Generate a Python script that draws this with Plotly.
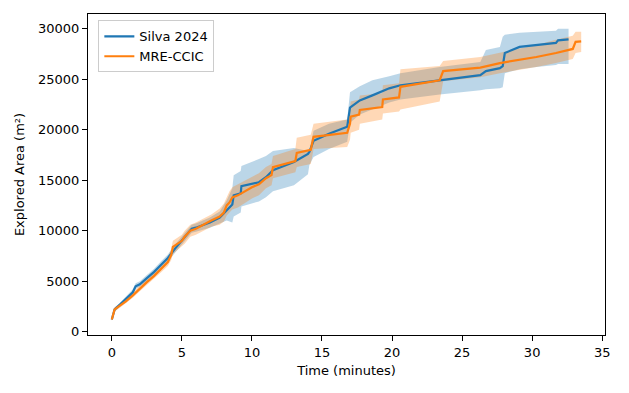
import plotly.graph_objects as go

# Silva 2024 (mean and spread)
silva_t = [0.0, 0.2, 0.6, 1.0, 1.5, 1.7, 2.0, 2.5, 3.0, 3.5, 4.0, 4.5, 5.0, 5.5, 5.7, 6.0,
           7.0, 7.7, 8.2, 8.6, 8.7, 9.2, 9.25, 10.5, 11.0, 11.5, 13.0, 14.0, 14.1, 14.4,
           15.5, 16.8, 17.0, 17.7, 18.6, 19.8, 20.6, 23.4, 26.3, 26.7, 27.7, 27.9, 28.05,
           29.1, 30.3, 31.7, 31.85, 32.6]
silva_mean = [1200, 2200, 2700, 3200, 3900, 4500, 4700, 5300, 5900, 6600, 7300, 8200, 9000,
              9800, 10200, 10300, 10800, 11300, 12000, 12600, 13500, 13700, 14400, 14800,
              15300, 16000, 16800, 17600, 17800, 18900, 19600, 20300, 22200, 22900, 23400,
              24100, 24400, 24900, 25400, 25800, 26100, 26300, 27600, 28200, 28400, 28600,
              28850, 28950]
silva_lo = [1100, 2000, 2500, 3000, 3650, 4250, 4450, 5000, 5600, 6250, 6950, 7800, 8600,
            9400, 9800, 9900, 10300, 10700, 11000, 10800, 11400, 11800, 12400, 12900,
            13300, 13900, 14500, 15600, 16500, 17300, 18100, 18800, 20700, 21500, 22000,
            22700, 23000, 23500, 23900, 24000, 24100, 24200, 25600, 26000, 26200, 26400,
            26500, 26500]
silva_hi = [1300, 2400, 2900, 3450, 4200, 4800, 5000, 5600, 6200, 6950, 7650, 8600, 9400,
            10200, 10600, 10700, 11300, 11900, 13000, 14200, 15500, 15900, 16400, 17100,
            17400, 17900, 18200, 17900, 18000, 19900, 20600, 21000, 23700, 24300, 24900,
            25300, 25600, 26200, 26700, 27900, 28200, 29200, 29400, 29600, 29700, 29800,
            30000, 30000]

# MRE-CCIC
mre_t = [0.0, 0.2, 0.6, 1.0, 1.5, 2.0, 2.5, 3.0, 3.5, 4.0, 4.24, 4.36, 5.0, 5.2, 5.6, 6.0,
         7.1, 7.7, 8.0, 8.2, 8.4, 8.6, 9.0, 10.0, 10.5, 11.0, 11.4, 11.5, 13.1, 13.2, 14.2,
         14.4, 16.8, 17.0, 17.05, 17.65, 17.7, 19.3, 19.35, 20.5, 20.6, 23.4, 23.65, 26.3,
         27.7, 30.3, 31.7, 32.9, 33.1, 33.5]
mre_mean = [1200, 2200, 2600, 3000, 3600, 4300, 4900, 5500, 6200, 6900, 7600, 8400, 9000,
            9400, 10000, 10200, 11000, 11400, 11800, 12500, 12800, 13300, 13500, 14300,
            14600, 15200, 15500, 16300, 16900, 17700, 18000, 19300, 19700, 20600, 21300,
            21500, 21950, 22250, 23000, 23200, 24250, 24900, 25800, 26150, 26600, 27200,
            27600, 28000, 28700, 28750]
mre_lo = [1100, 2000, 2400, 2800, 3350, 4000, 4600, 5200, 5850, 6500, 7100, 7700, 8400,
          8700, 9400, 9600, 10400, 10600, 10900, 11500, 11800, 12100, 12300, 13200, 13500,
          14200, 14500, 15200, 15800, 16300, 16600, 18100, 18300, 19000, 19700, 20000,
          20600, 21000, 21600, 21800, 22000, 22800, 24800, 25200, 25600, 26200, 26600,
          27000, 27600, 27700]
mre_hi = [1300, 2400, 2800, 3250, 3900, 4600, 5200, 5850, 6550, 7350, 8200, 9000, 9600,
          10000, 10600, 10800, 11600, 12200, 12700, 13400, 13900, 14300, 14600, 15400,
          15700, 16300, 16600, 17400, 18100, 19200, 19500, 20600, 21000, 22200, 22800,
          23000, 23400, 23600, 24400, 24600, 26000, 26300, 26800, 27200, 27600, 28400,
          28900, 29300, 29700, 29700]

x_ticks = [0, 5, 10, 15, 20, 25, 30, 35]
y_ticks = [0, 5000, 10000, 15000, 20000, 25000, 30000]

series = [
    ("Silva 2024", silva_t, silva_mean, silva_lo, silva_hi, "#1f77b4", "rgba(31,119,180,0.3)"),
    ("MRE-CCIC", mre_t, mre_mean, mre_lo, mre_hi, "#ff7f0e", "rgba(255,127,14,0.3)"),
]

fig = go.Figure()
# shaded spread first, lines on top
for name, t, mean, lo, hi, color, band in series:
    fig.add_trace(go.Scatter(x=t, y=lo, mode="lines", line=dict(width=0),
                             showlegend=False, hoverinfo="skip"))
    fig.add_trace(go.Scatter(x=t, y=hi, mode="lines", line=dict(width=0),
                             fill="tonexty", fillcolor=band,
                             showlegend=False, hoverinfo="skip"))
for name, t, mean, lo, hi, color, band in series:
    fig.add_trace(go.Scatter(x=t, y=mean, mode="lines", name=name,
                             line=dict(color=color, width=2.2)))

axis_style = dict(showline=True, linecolor="black", linewidth=1, mirror=True,
                  ticks="outside", ticklen=5, tickcolor="black", showgrid=False,
                  zeroline=False, automargin=False, tickfont=dict(size=13, color="black"))

# the page body adds an 8px offset, so the figure is 8px smaller on each side
fig.update_layout(
    width=621, height=385,
    margin=dict(l=80, r=24, t=6, b=58),
    paper_bgcolor="white", plot_bgcolor="white",
    font=dict(family="DejaVu Sans", size=13, color="black"),
    legend=dict(x=0.02, y=0.98, xanchor="left", yanchor="top", traceorder="normal",
                bgcolor="rgba(255,255,255,0.8)", bordercolor="#cccccc", borderwidth=1,
                font=dict(size=13)),
    xaxis=dict(range=[-1.7, 35.2], tickvals=x_ticks,
               title=dict(text="Time (minutes)", font=dict(size=13), standoff=7), **axis_style),
    yaxis=dict(range=[-330, 31460], tickvals=y_ticks, tickformat="d",
               title=dict(text="Explored Area (m²)", font=dict(size=13), standoff=10), **axis_style),
)

fig.write_html("out.html")
